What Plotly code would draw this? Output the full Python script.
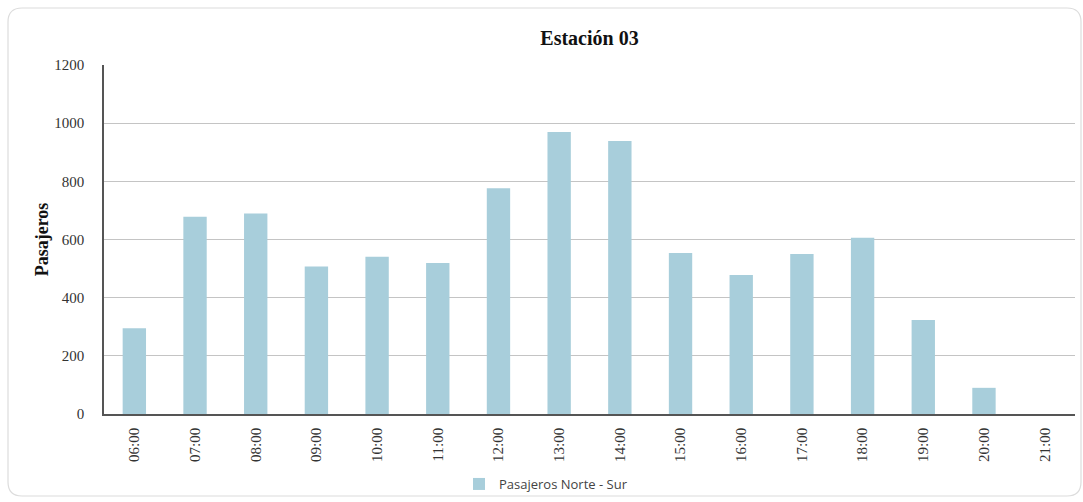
import plotly.graph_objects as go

hours = ["06:00", "07:00", "08:00", "09:00", "10:00", "11:00", "12:00", "13:00",
         "14:00", "15:00", "16:00", "17:00", "18:00", "19:00", "20:00", "21:00"]
pasajeros_norte_sur = [295, 678, 689, 507, 541, 519, 776, 970,
                       939, 554, 478, 550, 606, 323, 90, 0]
y_ticks = [0, 200, 400, 600, 800, 1000, 1200]

W, H = 1083, 502
L, R, T, B = 104, 1075, 65, 414

def px_x(px):
    return (px - L) / (R - L)

def px_y(py):
    return (B - py) / (B - T)

fig = go.Figure()
fig.add_trace(go.Bar(
    x=hours, y=pasajeros_norte_sur, name="Pasajeros Norte - Sur",
    marker=dict(color="#a8cedb", line=dict(width=0)),
    showlegend=True,
))

# rounded card border
x0, x1, y0, y1, r = 8, 1081, 8, 496, 14
path = (f"M {px_x(x0 + r)},{px_y(y0)} L {px_x(x1 - r)},{px_y(y0)} "
        f"Q {px_x(x1)},{px_y(y0)} {px_x(x1)},{px_y(y0 + r)} "
        f"L {px_x(x1)},{px_y(y1 - r)} Q {px_x(x1)},{px_y(y1)} {px_x(x1 - r)},{px_y(y1)} "
        f"L {px_x(x0 + r)},{px_y(y1)} Q {px_x(x0)},{px_y(y1)} {px_x(x0)},{px_y(y1 - r)} "
        f"L {px_x(x0)},{px_y(y0 + r)} Q {px_x(x0)},{px_y(y0)} {px_x(x0 + r)},{px_y(y0)} Z")

fig.update_layout(
    width=W, height=H,
    margin=dict(l=L, r=W - R, t=T, b=H - B, autoexpand=False),
    paper_bgcolor="white", plot_bgcolor="white",
    bargap=0.615,
    title=dict(text="<b>Estación 03</b>", x=0.5, xref="paper", xanchor="center",
               y=1 - 38 / H, yanchor="middle",
               font=dict(family="Liberation Serif, Times New Roman, serif", size=20, color="#111")),
    shapes=[dict(type="path", path=path, xref="paper", yref="paper",
                 line=dict(color="#dcdcdc", width=1.2), fillcolor="rgba(0,0,0,0)", layer="below")],
    xaxis=dict(
        type="category", categoryorder="array", categoryarray=hours,
        tickangle=-90, showgrid=False, showline=True, linecolor="#555", linewidth=1.5,
        ticks="", ticklabelstandoff=6,
        tickfont=dict(family="Liberation Serif, Times New Roman, serif", size=15, color="#333"),
        range=[-0.5, len(hours) - 0.5],
    ),
    yaxis=dict(
        range=[0, 1200], tickvals=y_ticks, showgrid=True, gridcolor="#c4c4c4", gridwidth=1,
        showline=True, linecolor="#555", linewidth=1.5, zeroline=False,
        ticks="", ticklabelstandoff=15,
        tickfont=dict(family="Liberation Serif, Times New Roman, serif", size=15, color="#333"),
        title=dict(text="<b>Pasajeros</b>", standoff=1,
                   font=dict(family="Liberation Serif, Times New Roman, serif", size=18, color="#111")),
    ),
    legend=dict(orientation="h", x=px_x(546), xanchor="center", y=px_y(484), yanchor="middle",
                font=dict(family="Open Sans, sans-serif", size=13, color="#444"),
                bgcolor="rgba(0,0,0,0)"),
)

fig.write_html("out.html", config={"displayModeBar": False},
               post_script="document.body.style.margin='0';document.body.style.overflow='hidden';")
